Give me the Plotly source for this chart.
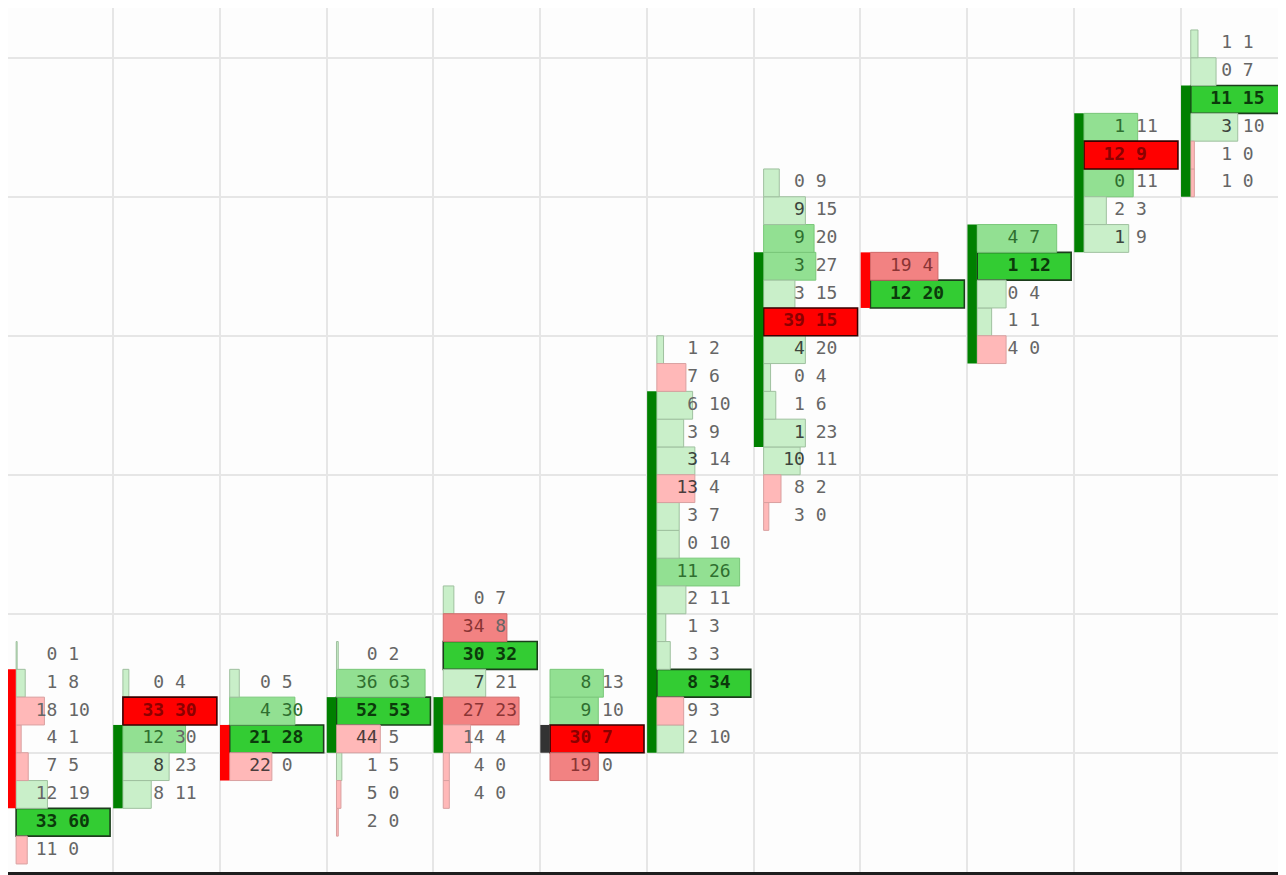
import plotly.graph_objects as go

# footprint: one list per candle, price rows listed bottom -> top
low_level = [0, 2, 3, 1, 2, 3, 4, 12, 20, 18, 22, 24]
open_level = [6, 2, 4, 4, 4, 4, 4, 15, 21, 18, 22, 24]
close_level = [2, 4, 3, 5, 5, 4, 16, 21, 20, 22, 26, 27]

bids = [
    [11, 33, 12, 7, 4, 18, 1, 0],
    [8, 8, 12, 33, 0],
    [22, 21, 4, 0],
    [2, 5, 1, 44, 52, 36, 0],
    [4, 4, 14, 27, 7, 30, 34, 0],
    [19, 30, 9, 8],
    [2, 9, 8, 3, 1, 2, 11, 0, 3, 13, 3, 3, 6, 7, 1],
    [3, 8, 10, 1, 1, 0, 4, 39, 3, 3, 9, 9, 0],
    [12, 19],
    [4, 1, 0, 1, 4],
    [1, 2, 0, 12, 1],
    [1, 1, 3, 11, 0, 1],
]
asks = [
    [0, 60, 19, 5, 1, 10, 8, 1],
    [11, 23, 30, 30, 4],
    [0, 28, 30, 5],
    [0, 0, 5, 5, 53, 63, 2],
    [0, 0, 4, 23, 21, 32, 8, 7],
    [0, 7, 10, 13],
    [10, 3, 34, 3, 3, 11, 26, 10, 7, 4, 14, 9, 10, 6, 2],
    [0, 2, 11, 23, 6, 4, 20, 15, 15, 27, 20, 15, 9],
    [20, 4],
    [0, 1, 4, 12, 7],
    [9, 3, 11, 9, 11],
    [0, 0, 10, 15, 7, 1],
]

grid_rows = [3.5, 8.5, 13.5, 18.5, 23.5, 28.5]

BODY_W = 0.088
BAR_START = 0.093
BAR_MAX = 0.88
TEXT_X = 0.53

# fill, border, text colour (inside bar) per (side, tier)
STYLES = {
    ("up", "poc"): ("#33cc33", "#1c3d1c", "#0b3a0b"),
    ("up", "mid"): ("#92e092", "#79c779", "#2f6f2f"),
    ("up", "low"): ("#c9efc9", "#9fc09f", "#3c443c"),
    ("dn", "poc"): ("#ff0000", "#3a0000", "#8b0000"),
    ("dn", "mid"): ("#f28282", "#d06a6a", "#8a3434"),
    ("dn", "low"): ("#ffb8b8", "#d9a0a0", "#4a3c3c"),
}
GREY = "#666666"

groups = {k: {"y": [], "x": [], "base": []} for k in STYLES}
tx, ty, tt = [], [], []

for i in range(len(bids)):
    totals = [b + a for b, a in zip(bids[i], asks[i])]
    top = max(totals)
    for j, (b, a) in enumerate(zip(bids[i], asks[i])):
        lvl = low_level[i] + j
        ratio = totals[j] / top
        side = "up" if a >= b else "dn"
        tier = "poc" if totals[j] == top else ("mid" if ratio > 0.5 else "low")
        w = BAR_MAX * ratio
        g = groups[(side, tier)]
        g["y"].append(lvl)
        g["x"].append(w)
        g["base"].append(i + BAR_START)

        # digits sitting on a bar take the bar's dark tone
        tc = STYLES[(side, tier)][2]
        end = BAR_START + w
        cb = tc if end > 0.43 else GREY
        ca = tc if end > 0.70 else GREY
        bs = str(b).rjust(2, "\u00a0")
        as_ = str(a).ljust(2, "\u00a0")
        s = (f"<span style='color:{cb}'>{bs}</span>\u00a0"
             f"<span style='color:{ca}'>{as_}</span>")
        if tier == "poc":
            s = f"<b>{s}</b>"
        tx.append(i + TEXT_X)
        ty.append(lvl)
        tt.append(s)

fig = go.Figure()

for key, g in groups.items():
    fill, border, _ = STYLES[key]
    fig.add_trace(go.Bar(
        y=g["y"], x=g["x"], base=g["base"], orientation="h", width=1.0,
        marker=dict(color=fill, line=dict(color=border,
                                          width=1.6 if key[1] == "poc" else 1)),
        hoverinfo="skip", showlegend=False,
    ))

# candle bodies (open -> close)
bx, bh, bb, bc = [], [], [], []
for i in range(len(bids)):
    o, c = open_level[i], close_level[i]
    bx.append(i + BODY_W / 2 + 0.002)
    bb.append(min(o, c) - 0.5)
    bh.append(abs(c - o) + 1)
    bc.append("#008000" if c > o else ("#ff0000" if c < o else "#333333"))

fig.add_trace(go.Bar(
    x=bx, y=bh, base=bb, width=BODY_W, orientation="v",
    marker=dict(color=bc, line=dict(width=0)),
    hoverinfo="skip", showlegend=False,
))

fig.add_trace(go.Scatter(
    x=tx, y=ty, text=tt, mode="text", textposition="middle center",
    textfont=dict(family="DejaVu Sans Mono", size=18, color=GREY),
    hoverinfo="skip", showlegend=False,
))

# page body has an 8px margin, so the figure is sized to sit inside the window
fig.update_layout(
    width=1278, height=867,
    margin=dict(l=0, r=0, t=0, b=3),
    paper_bgcolor="#1e1e1e",
    plot_bgcolor="#fdfdfd",
    barmode="overlay",
    xaxis=dict(range=[0.017, 11.985], tickvals=list(range(1, 12)),
               showticklabels=False, showgrid=True, gridcolor="#e6e6e6",
               gridwidth=1.5, zeroline=False, fixedrange=True),
    yaxis=dict(range=[-0.79, 30.29], tickvals=grid_rows,
               showticklabels=False, showgrid=True, gridcolor="#e6e6e6",
               gridwidth=1.5, zeroline=False, fixedrange=True),
)

fig.write_html("out.html", config={"displayModeBar": False})
